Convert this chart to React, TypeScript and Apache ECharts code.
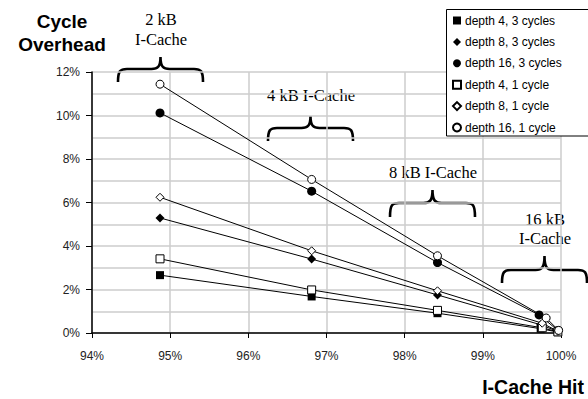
import React, { useEffect, useRef } from "react";
import * as echarts from "echarts";

const seriesNames = [
  "depth 4, 3 cycles",
  "depth 8, 3 cycles",
  "depth 16, 3 cycles",
  "depth 4, 1 cycle",
  "depth 8, 1 cycle",
  "depth 16, 1 cycle",
];
const symbols = ["rect", "diamond", "circle", "rect", "diamond", "circle"];
const hollow = [false, false, false, true, true, true];

const d4c3 = [[94.87, 2.66], [96.81, 1.68], [98.42, 0.91], [99.74, 0.2], [99.96, 0.04]];
const d8c3 = [[94.87, 5.29], [96.81, 3.4], [98.42, 1.75], [99.74, 0.38], [99.96, 0.07]];
const d16c3 = [[94.87, 10.12], [96.81, 6.52], [98.42, 3.24], [99.72, 0.83], [99.96, 0.12]];
const d4c1 = [[94.87, 3.41], [96.81, 1.98], [98.42, 1.04], [99.76, 0.24], [99.96, 0.05]];
const d8c1 = [[94.87, 6.24], [96.81, 3.78], [98.42, 1.94], [99.76, 0.45], [99.96, 0.08]];
const d16c1 = [[94.87, 11.44], [96.81, 7.06], [98.42, 3.55], [99.81, 0.69], [99.97, 0.12]];
const seriesData = [d4c3, d8c3, d16c3, d4c1, d8c1, d16c1];

const xTicks = [94, 95, 96, 97, 98, 99, 100];
const yTicks = [0, 2, 4, 6, 8, 10, 12];

let registered = false;
function registerBrace() {
  if (registered) return;
  registered = true;
  const Brace = (echarts.graphic as any).extendShape({
    shape: { x1: 0, x2: 0, yTop: 0, yMid: 0, yEnd: 0 },
    buildPath(ctx: any, s: any) {
      const cx = (s.x1 + s.x2) / 2;
      const r = 9;
      ctx.moveTo(s.x1, s.yEnd);
      ctx.bezierCurveTo(s.x1, s.yMid + 2, s.x1 + 2, s.yMid, s.x1 + r, s.yMid);
      ctx.lineTo(cx - r, s.yMid);
      ctx.bezierCurveTo(cx - 3, s.yMid, cx, s.yMid - 2, cx, s.yTop);
      ctx.bezierCurveTo(cx, s.yMid - 2, cx + 3, s.yMid, cx + r, s.yMid);
      ctx.lineTo(s.x2 - r, s.yMid);
      ctx.bezierCurveTo(s.x2 - 2, s.yMid, s.x2, s.yMid + 2, s.x2, s.yEnd);
    },
  });
  echarts.graphic.registerShape("brace", Brace);
}

const braceStyle = { stroke: "#000", lineWidth: 2.6, fill: "none" };
const serifFont = { fontFamily: "Liberation Serif", fontSize: 16.5, fill: "#000" };

export default function App() {
  const ref = useRef<HTMLDivElement>(null);
  useEffect(() => {
    document.body.style.margin = "0";
    registerBrace();
    const chart = echarts.init(ref.current!, null, { renderer: "svg" });
    const option: any = {
      animation: false,
      textStyle: { fontFamily: "Liberation Sans" },
      grid: { left: 92, right: 27, top: 72, bottom: 66, containLabel: false },
      xAxis: {
        type: "value",
        min: xTicks[0],
        max: xTicks[xTicks.length - 1],
        interval: 1,
        axisLine: { show: true, onZero: false, lineStyle: { color: "#000", width: 1.5 } },
        axisTick: { show: true, length: 5, lineStyle: { color: "#000" } },
        axisLabel: { color: "#222", fontSize: 12, margin: 17, formatter: (v: number) => v + "%" },
        splitLine: { show: true, lineStyle: { color: "#cccccc", width: 1.5 } },
      },
      yAxis: {
        type: "value",
        min: yTicks[0],
        max: yTicks[yTicks.length - 1],
        interval: 2,
        axisLine: { show: true, lineStyle: { color: "#000", width: 1.5 } },
        axisTick: { show: true, length: 6, lineStyle: { color: "#000" } },
        axisLabel: { color: "#222", fontSize: 12, margin: 12, formatter: (v: number) => v + "%" },
        splitLine: { show: true, lineStyle: { color: "#cccccc", width: 1.5 } },
        minorTick: { show: false, splitNumber: 2 },
        minorSplitLine: { show: true, lineStyle: { color: "#cccccc", width: 1.5 } },
      },
      legend: {
        orient: "vertical",
        left: 446,
        top: 9,
        z: 6,
        itemWidth: 8,
        itemHeight: 8,
        itemGap: 9.4,
        padding: [5.5, 10, 6, 6],
        borderWidth: 0,
        backgroundColor: "transparent",
        textStyle: { fontSize: 12, color: "#000", fontFamily: "Liberation Sans", padding: [0, 0, 0, -1] },
        data: seriesNames.map((n, i) => ({ name: n, icon: symbols[i] })),
      },
      series: seriesData.map((d, i) => ({
        name: seriesNames[i],
        type: "line",
        data: d,
        symbol: symbols[i],
        symbolSize: hollow[i] ? 8 : symbols[i] === "rect" ? 8 : 9,
        showAllSymbol: true,
        lineStyle: { color: "#000", width: 1 },
        itemStyle: hollow[i]
          ? { color: "#fff", borderColor: "#000", borderWidth: 1 }
          : { color: "#000", borderColor: "#000", borderWidth: 0 },
        z: 3,
      })),
      graphic: [
        {
          type: "rect",
          z: 5,
          shape: { x: 446.5, y: 9.5, width: 200, height: 126.5 },
          style: { fill: "#fff", stroke: "#000", lineWidth: 1 },
        },
        {
          type: "text",
          x: 62,
          y: 9.5,
          style: {
            text: "Cycle\nOverhead",
            fontFamily: "Liberation Sans",
            fontWeight: "bold",
            fontSize: 19,
            lineHeight: 23,
            align: "center",
            fill: "#000",
          },
        },
        {
          type: "text",
          x: 584,
          y: 377,
          style: {
            text: "I-Cache Hit",
            fontFamily: "Liberation Sans",
            fontWeight: "bold",
            fontSize: 19.5,
            align: "right",
            fill: "#000",
          },
        },
        { type: "text", x: 161, y: 9, style: { ...serifFont, text: "2 kB\nI-Cache", align: "center", lineHeight: 20 } },
        { type: "brace", shape: { x1: 118, x2: 203, yTop: 57, yMid: 69, yEnd: 82 }, style: braceStyle },
        { type: "text", x: 311, y: 87, style: { ...serifFont, text: "4 kB I-Cache", align: "center" } },
        { type: "brace", shape: { x1: 268, x2: 353, yTop: 116, yMid: 128, yEnd: 141 }, style: braceStyle },
        { type: "text", x: 433, y: 163.5, style: { ...serifFont, text: "8 kB I-Cache", align: "center" } },
        { type: "brace", shape: { x1: 390, x2: 475, yTop: 190, yMid: 203, yEnd: 217 }, style: braceStyle },
        { type: "text", x: 545, y: 209.5, style: { ...serifFont, text: "16 kB\nI-Cache", align: "center", lineHeight: 19 } },
        { type: "brace", shape: { x1: 502, x2: 587, yTop: 256, yMid: 270, yEnd: 283 }, style: braceStyle },
      ],
    };
    chart.setOption(option);
    return () => chart.dispose();
  }, []);
  return <div ref={ref} style={{ width: 588, height: 399 }} />;
}
